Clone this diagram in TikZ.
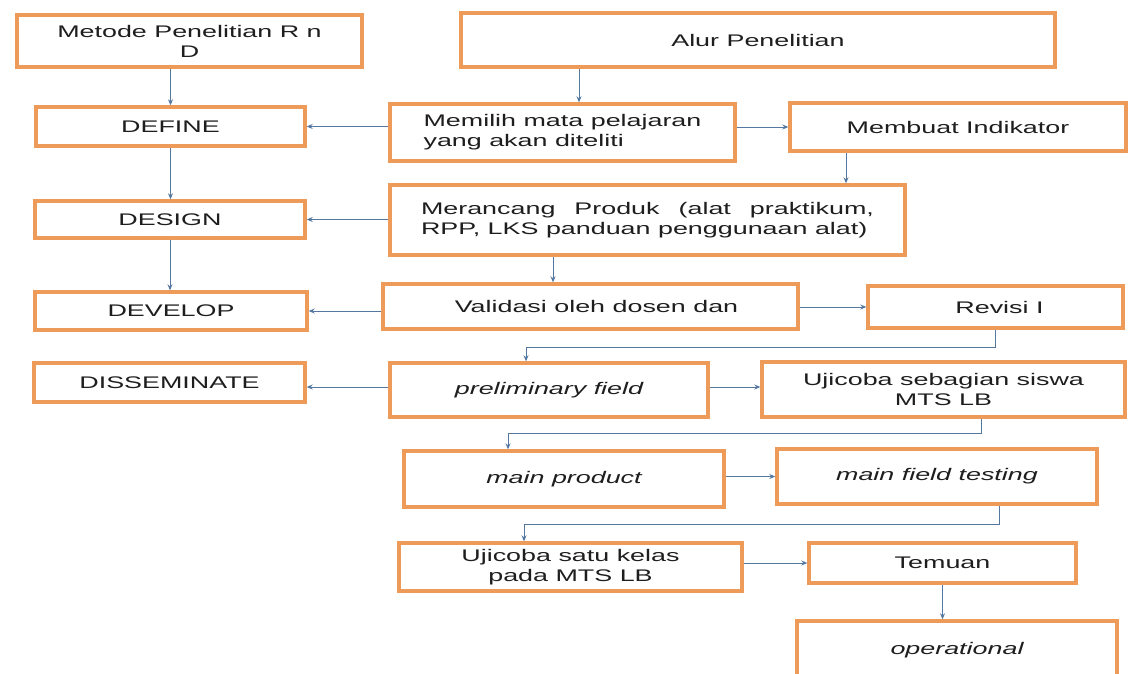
\documentclass[tikz,border=0pt]{standalone}
\usepackage{fontspec}
\setmainfont{Liberation Sans}[FakeStretch=1.6]
\usetikzlibrary{arrows.meta,calc}
\definecolor{boxor}{RGB}{238,155,90}
\definecolor{arrbl}{RGB}{84,120,160}
\definecolor{txt}{RGB}{30,30,30}
\begin{document}
\begin{tikzpicture}[x=1pt,y=-1pt,
  box/.style={draw=boxor, line width=3.4pt, fill=white, inner sep=0pt, align=center,
    text=txt, font=\fontsize{16.8}{20}\selectfont},
  arr/.style={draw=arrbl, line width=0.9pt, -{Stealth[length=6pt,width=5pt,inset=2pt]}}]
\useasboundingbox[fill=white] (0,0) rectangle (1131,673);

% left column
\node[box, minimum width=345, minimum height=52] (metode) at (189.5,41) {Metode Penelitian R n\\D};
\node[box, minimum width=269, minimum height=39] (define) at (170.5,126.5) {DEFINE};
\node[box, minimum width=270, minimum height=37] (design) at (170,219.5) {DESIGN};
\node[box, minimum width=272, minimum height=38] (develop) at (171,311) {DEVELOP};
\node[box, minimum width=271, minimum height=39] (dissem) at (169.5,382.5) {DISSEMINATE};

% right part
\node[box, minimum width=594, minimum height=54] (alur) at (758,40) {Alur Penelitian};
\node[box, minimum width=345, minimum height=57, align=left] (memilih) at (562.5,132.5) {Memilih mata pelajaran\\yang akan diteliti};
\node[box, minimum width=336, minimum height=48] (membuat) at (958,127) {Membuat Indikator};
\node[box, minimum width=515, minimum height=70] (merancang) at (647.5,220) {\makebox[453pt][s]{Merancang Produk (alat praktikum,}\\\makebox[453pt][l]{RPP, LKS panduan penggunaan alat)}};
\node[box, minimum width=415, minimum height=45] (validasi) at (590.5,306.5) {\hspace*{12pt}Validasi oleh dosen dan};
\node[box, minimum width=255, minimum height=42] (revisi) at (995.5,307) {\hspace*{8pt}Revisi I};
\node[box, minimum width=318, minimum height=54] (prelim) at (549,390) {\itshape preliminary field};
\node[box, minimum width=363, minimum height=55] (ujisebagian) at (943.5,389.5) {Ujicoba sebagian siswa\\MTS LB};
\node[box, minimum width=320, minimum height=56] (mainproduct) at (564,479) {\itshape main product};
\node[box, minimum width=320, minimum height=55] (mainfield) at (937,476.5) {\itshape main field testing};
\node[box, minimum width=343, minimum height=48] (ujisatu) at (570.5,567) {Ujicoba satu kelas\\pada MTS LB};
\node[box, minimum width=267, minimum height=40] (temuan) at (942.5,563) {Temuan};
\node[box, minimum width=320, minimum height=58] (operational) at (957,650) {\itshape operational};

% connectors left column
\draw[arr] (metode.south -| define.north) -- (define.north);
\draw[arr] (define.south) -- (define.south |- design.north);
\draw[arr] (design.south) -- (design.south |- develop.north);

% connectors right part
\draw[arr] ([xshift=16.5pt]memilih.north |- alur.south) -- ([xshift=16.5pt]memilih.north);
\draw[arr] (memilih.west |- define.east) -- (define.east);
\draw[arr] (memilih.east |- membuat.west) -- (membuat.west);
\draw[arr] ([xshift=-112pt]membuat.south) -- ([xshift=-112pt]membuat.south |- merancang.north);
\draw[arr] (merancang.west |- design.east) -- (design.east);
\draw[arr] ([xshift=-37.5pt]validasi.north |- merancang.south) -- ([xshift=-37.5pt]validasi.north);
\draw[arr] (validasi.west |- develop.east) -- (develop.east);
\draw[arr] (validasi.east |- revisi.west) -- (revisi.west);
\draw[arr] (revisi.south) -- ++(0,18) -| ([xshift=-23pt]prelim.north);
\draw[arr] ([yshift=3pt]prelim.west) -- ([yshift=3pt]prelim.west -| dissem.east);
\draw[arr] ([yshift=3pt]prelim.east) -- ([yshift=3pt]prelim.east -| ujisebagian.west);
\draw[arr] ([xshift=37.5pt]ujisebagian.south) -- ++(0,15) -| ([xshift=-56pt]mainproduct.north);
\draw[arr] (mainproduct.east |- mainfield.west) -- (mainfield.west);
\draw[arr] ([xshift=62pt]mainfield.south) -- ++(0,19) -| ([xshift=-46.5pt]ujisatu.north);
\draw[arr] (ujisatu.east |- temuan.west) -- (temuan.west);
\draw[arr] (temuan.south) -- (temuan.south |- operational.north);
\end{tikzpicture}
\end{document}
